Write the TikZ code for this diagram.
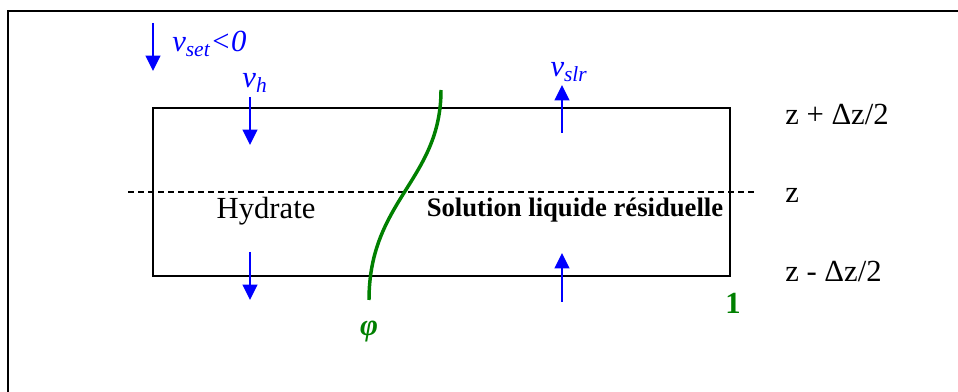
\documentclass[tikz,border=0pt]{standalone}
\usepackage{fontspec}
\setmainfont{Liberation Serif}
\usetikzlibrary{arrows.meta,positioning}
\definecolor{fluxblue}{RGB}{0,0,255}
\definecolor{phigreen}{RGB}{0,128,0}

\begin{document}
\begin{tikzpicture}[x=0.75pt,y=-0.75pt,>={Triangle[width=11pt,length=11.5pt]},
  flux/.style={->,fluxblue,line width=1.5pt},
  big/.style={font=\fontsize{23}{27}\selectfont,inner sep=0pt},
  level/.style={big,anchor=base west}]
  \useasboundingbox (0,0) rectangle (958,392);
  % frame and control volume
  \draw[line width=1.5pt] (8,392)--(8,11)--(958,11);
  \draw[line width=1.3pt] (153,108) rectangle (730,276);
  \draw[line width=1pt,dash pattern=on 4.5pt off 3pt] (128,192)--(754,192);
  % velocities
  \coordinate (set1) at (153,23);  \coordinate (set2) at (153,71);
  \coordinate (h1) at (250,97);    \coordinate (h2) at (250,145);
  \coordinate (h3) at (250,252);   \coordinate (h4) at (250,300);
  \coordinate (s1) at (562,133);   \coordinate (s2) at (562,85);
  \coordinate (s3) at (562,302);   \coordinate (s4) at (562,253);
  \foreach \a/\b in {set1/set2,h1/h2,h3/h4,s1/s2,s3/s4}{\draw[flux] (\a)--(\b);}
  \node[big,anchor=base west,fluxblue] (vset) at (172,52) {\textit{v\textsubscript{set}<0}};
  \node[big,anchor=base,fluxblue] (vh) at (255,88) {\textit{v\textsubscript{h}}};
  \node[big,anchor=base,fluxblue] (vslr) at (569,77) {\textit{v\textsubscript{slr}}};
  % volume fraction profile
  \draw[phigreen,line width=2.6pt] (441,90) .. controls (441,180) and (369,200) .. (369,300);
  \node[big,anchor=base,phigreen] (phi) at (369,335) {\textbf{\textit{φ}}};
  \node[big,anchor=base,phigreen] (one) at (733,314) {\textbf{1}};
  % phases
  \node[big,anchor=base] (hyd) at (266,219) {Hydrate};
  \node[font=\fontsize{20}{23}\selectfont\bfseries,inner sep=0pt,anchor=base] (sol) at (575,217)
    {Solution liquide résiduelle};
  % levels
  \node[level] (ztop) at (785,125) {z + Δz/2};
  \node[level] (zmid) at (785,203) {z};
  \node[level] (zbot) at (785,282) {z - Δz/2};
\end{tikzpicture}
\end{document}
